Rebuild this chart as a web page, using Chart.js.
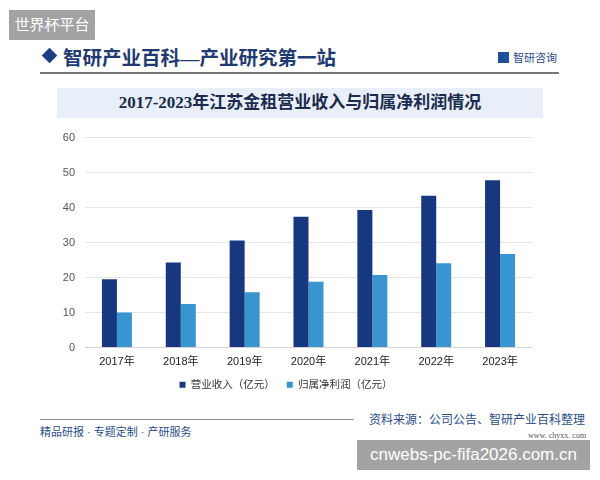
<!DOCTYPE html>
<html lang="zh">
<head>
<meta charset="utf-8">
<title>江苏金租营业收入与归属净利润</title>
<style>
body { margin: 0; width: 600px; height: 480px; background: #fff; position: relative; overflow: hidden; font-family: "Liberation Sans", "Noto Sans CJK SC", sans-serif; }
.abs { position: absolute; white-space: nowrap; }
.tag { background: #a3a3a3; color: #fff; }
#topTag { left: 9px; top: 10px; width: 86px; height: 30px; line-height: 30px; font-size: 15px; text-align: center; }
#bottomTag { left: 357px; top: 440px; width: 233px; height: 30px; line-height: 30px; font-size: 17px; text-align: center; }
#diamond { left: 44px; top: 50px; width: 11px; height: 11px; background: #1c3d80; transform: rotate(45deg); }
#head { left: 63px; top: 42px; font-size: 19.5px; font-weight: bold; color: #1f3a72; font-family: "Liberation Serif", "Noto Sans CJK SC", serif; }
#logo { left: 498px; top: 49px; font-size: 11px; color: #2a4e8c; }
#logo b { display: inline-block; width: 11px; height: 11px; background: #1d4f9b; margin-right: 4px; vertical-align: -1px; }
#headLine { left: 40px; top: 72px; width: 519px; height: 2px; background: #777; }
#titleBand { left: 57px; top: 88px; width: 486px; height: 30px; background: #e9eff8; }
#title { left: 57px; top: 88px; width: 486px; line-height: 30px; text-align: center; font-size: 17px; font-weight: bold; color: #1b2b4d; font-family: "Liberation Serif", "Noto Sans CJK SC", serif; }
#chartBox { left: 40px; top: 121px; width: 520px; height: 279px; }
#footLine { left: 40px; top: 419px; width: 314px; height: 1px; background: #8a8a8a; }
#footLeft { left: 40px; top: 423px; font-size: 11px; color: #2a4e8c; }
#source { left: 369px; top: 410px; font-size: 12px; color: #2a4e8c; }
#site { left: 528px; top: 431px; font-size: 8px; color: #555; font-family: "Liberation Serif", serif; }
</style>
</head>
<body>
<div class="abs tag" id="topTag">世界杯平台</div>
<div class="abs" id="diamond"></div>
<div class="abs" id="head">智研产业百科—产业研究第一站</div>
<div class="abs" id="logo"><b></b>智研咨询</div>
<div class="abs" id="headLine"></div>
<div class="abs" id="titleBand"></div>
<div class="abs" id="title">2017-2023年江苏金租营业收入与归属净利润情况</div>
<div class="abs" id="chartBox"><canvas id="canvas"></canvas></div>
<div class="abs" id="footLine"></div>
<div class="abs" id="footLeft">精品研报 · 专题定制 · 产研服务</div>
<div class="abs" id="source">资料来源：公司公告、智研产业百科整理</div>
<div class="abs" id="site">www. chyxx. com</div>
<div class="abs tag" id="bottomTag">cnwebs-pc-fifa2026.com.cn</div>

<script src="https://cdn.jsdelivr.net/npm/chart.js"></script>
<script>
  // data
  const years = ["2017年", "2018年", "2019年", "2020年", "2021年", "2022年", "2023年"];
  const revenue = [19.5, 24.3, 30.6, 37.4, 39.3, 43.4, 47.8];
  const netProfit = [10.0, 12.4, 15.8, 18.8, 20.7, 24.1, 26.7];
  const seriesNames = ["营业收入（亿元）", "归属净利润（亿元）"];
  const yTicks = [0, 10, 20, 30, 40, 50, 60];

  const fontStack = '"Liberation Sans", "Noto Sans CJK SC", sans-serif';
  const ctx = document.getElementById('canvas').getContext("2d");
  let mychart = new Chart(ctx, {
    type: 'bar',
    data: {
      labels: years,
      datasets: [
        { label: seriesNames[0], data: revenue, backgroundColor: '#17387f' },
        { label: seriesNames[1], data: netProfit, backgroundColor: '#3995d0' }
      ]
    },
    options: {
      responsive: true,
      maintainAspectRatio: false,
      animation: false,
      devicePixelRatio: 1,
      layout: { padding: { left: 0, right: 28, top: 4, bottom: 0 } },
      datasets: { bar: { barPercentage: 1, categoryPercentage: 0.47 } },
      plugins: {
        tooltip: { enabled: false },
        legend: {
          position: 'bottom',
          labels: {
            boxWidth: 6, boxHeight: 6, padding: 12,
            color: '#333',
            font: { size: 10.5, family: fontStack }
          }
        }
      },
      scales: {
        x: {
          afterFit: s => { s.height = 20; },
          grid: { display: false },
          border: { color: '#d4d4d4' },
          ticks: { color: '#222', padding: 0, font: { size: 11, family: fontStack } }
        },
        y: {
          min: 0, max: 60,
          afterFit: s => { s.width = 45; },
          afterBuildTicks: s => { s.ticks = yTicks.map(v => ({ value: v })); },
          grid: { color: '#e5e5e5', drawTicks: false },
          border: { display: false },
          ticks: { color: '#555', padding: 10, font: { size: 11, family: fontStack } }
        }
      }
    }
  });
</script>
</body>
</html>
